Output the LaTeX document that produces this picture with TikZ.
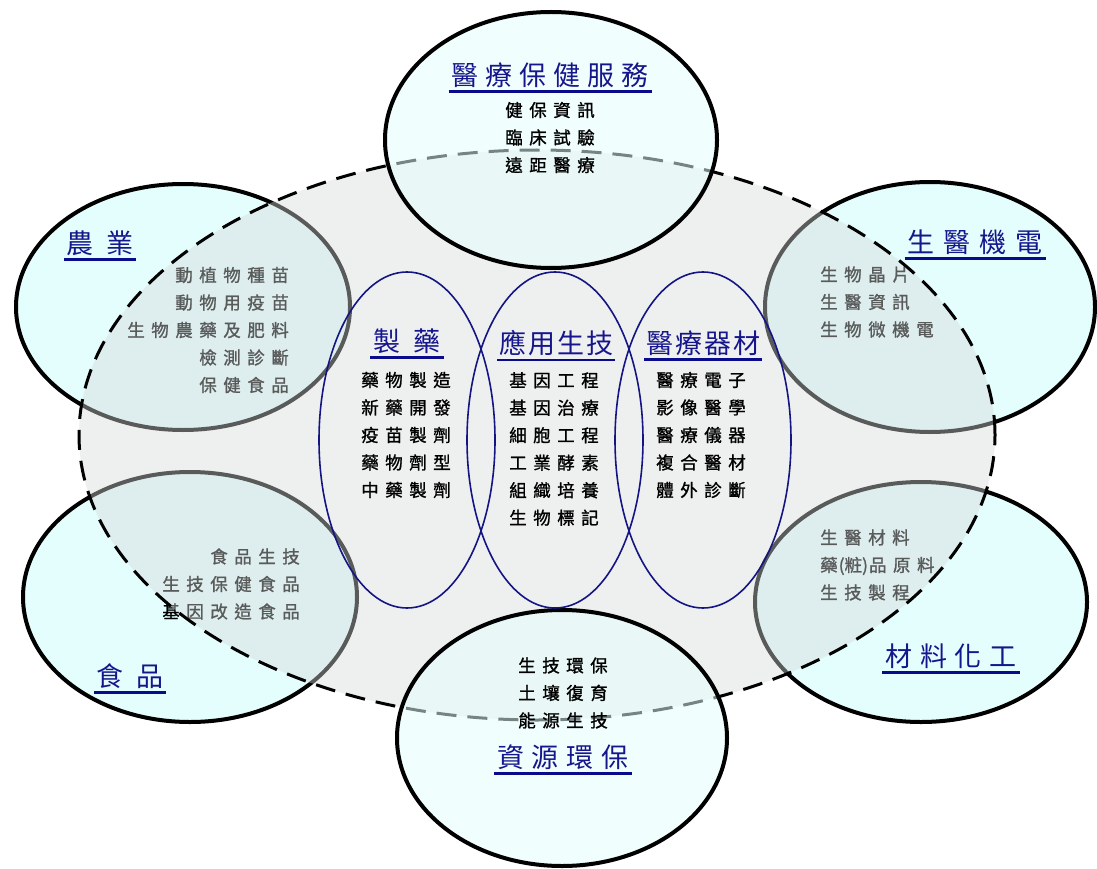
\documentclass[tikz,border=0pt]{standalone}
\usepackage{fontspec}
\usetikzlibrary{shapes.geometric}
\newfontfamily\cjk{Noto Sans CJK TC}
\newfontfamily\cjkitem[FakeBold=1.2]{Noto Sans CJK TC}
\definecolor{cyanfill}{RGB}{228,254,254}
\definecolor{bgfill}{RGB}{214,218,218}
\definecolor{titleblue}{RGB}{22,22,140}
\definecolor{lineblue}{RGB}{10,10,140}
\definecolor{innerblue}{RGB}{20,20,130}
\makeatletter
\newcommand\lsp[2]{\def\lsp@gap{\kern#1\relax}\lsp@first#2\@nil}
\def\lsp@first#1{\ifx#1\@nil\else#1\expandafter\lsp@rest\fi}
\def\lsp@rest#1{\ifx#1\@nil\else\lsp@gap#1\expandafter\lsp@rest\fi}
\makeatother
\newcommand\itm[1]{\lsp{6.5pt}{#1}}
\tikzset{
  outer/.style={ellipse, draw=black, line width=4pt, fill=cyanfill, inner sep=0pt},
  outertop/.style={outer, fill opacity=0.52},
  big/.style={ellipse, draw=black, line width=3pt, dash pattern=on 20pt off 11pt, fill=bgfill, fill opacity=0.42, inner sep=0pt},
  inner/.style={ellipse, draw=innerblue, line width=1.6pt, inner sep=0pt, minimum width=176pt, minimum height=336pt},
  ttl/.style={font=\cjk\fontsize{27}{30}\selectfont, text=titleblue, inner sep=0pt, outer sep=0pt},
  items/.style={font=\cjkitem\fontsize{17.5}{27.5}\selectfont, text=black, inner sep=0pt},
  uline/.style={draw=lineblue, line width=2.2pt},
}
\begin{document}
\begin{tikzpicture}[x=1pt,y=-1pt]
\useasboundingbox (0,0) rectangle (1097,869);
% side ellipses
\node[outer, minimum width=334pt, minimum height=246pt] (agri) at (183,307) {};
\node[outer, minimum width=330pt, minimum height=250pt] (bme) at (930,307) {};
\node[outer, minimum width=334pt, minimum height=250pt] (food) at (190,597) {};
\node[outer, minimum width=332pt, minimum height=240pt] (mat) at (921,602) {};
% side texts
\node[ttl] (tagri) at (100,243) {\lsp{14pt}{農業}};
\draw[uline] ([xshift=-2pt,yshift=-4pt]tagri.south west) -- ([xshift=2pt,yshift=-4pt]tagri.south east);
\node[items, align=right, anchor=east] (iagri) at (289,330) {\itm{動植物種苗}\\\itm{動物用疫苗}\\\itm{生物農藥及肥料}\\\itm{檢測診斷}\\\itm{保健食品}};
\node[ttl] (tbme) at (975,242) {\lsp{9pt}{生醫機電}};
\draw[uline] ([xshift=-3pt,yshift=-4pt]tbme.south west) -- ([xshift=3pt,yshift=-4pt]tbme.south east);
\node[items, align=left, anchor=west] (ibme) at (820,302) {\itm{生物晶片}\\\itm{生醫資訊}\\\itm{生物微機電}};
\node[items, align=right, anchor=east] (ifood) at (300,584) {\itm{食品生技}\\\itm{生技保健食品}\\\itm{基因改造食品}};
\node[ttl] (tfood) at (130,676) {\lsp{14pt}{食品}};
\draw[uline] ([xshift=-2pt,yshift=-4pt]tfood.south west) -- ([xshift=2pt,yshift=-4pt]tfood.south east);
\node[items, align=left, anchor=west] (imat) at (820,565) {\itm{生醫材料}\\\itm{藥}\kern1pt(粧)\kern1pt\itm{品原料}\\\itm{生技製程}};
\node[ttl] (tmat) at (951,656) {\lsp{8pt}{材料化工}};
\draw[uline] ([xshift=-3pt,yshift=-4pt]tmat.south west) -- ([xshift=3pt,yshift=-4pt]tmat.south east);
% big dashed ellipse
\node[big, minimum width=916pt, minimum height=570pt] (core) at (537,435) {};
% top and bottom ellipses
\node[outertop, minimum width=332pt, minimum height=256pt] (health) at (551,140) {};
\node[outertop, minimum width=330pt, minimum height=256pt] (env) at (562,738) {};
\node[ttl] (thealth) at (550,75) {\lsp{7pt}{醫療保健服務}};
\draw[uline] ([xshift=-3pt,yshift=-4pt]thealth.south west) -- ([xshift=3pt,yshift=-4pt]thealth.south east);
\node[items, align=center] (ihealth) at (550,137.5) {\itm{健保資訊}\\\itm{臨床試驗}\\\itm{遠距醫療}};
\node[items, align=center] (ienv) at (563,693) {\itm{生技環保}\\\itm{土壤復育}\\\itm{能源生技}};
\node[ttl] (tenv) at (563,757) {\lsp{8pt}{資源環保}};
\draw[uline] ([xshift=-3pt,yshift=-4pt]tenv.south west) -- ([xshift=3pt,yshift=-4pt]tenv.south east);
% inner ellipses
\node[inner] (pharm) at (407,440) {};
\node[inner] (biotech) at (555,440) {};
\node[inner] (device) at (703,440) {};
\node[ttl] (tpharm) at (407,341) {\lsp{14pt}{製藥}};
\draw[uline] ([xshift=-3pt,yshift=-4pt]tpharm.south west) -- ([xshift=3pt,yshift=-4pt]tpharm.south east);
\node[ttl] (tbiotech) at (556,343) {\lsp{2pt}{應用生技}};
\draw[uline] ([xshift=-2pt,yshift=-4pt]tbiotech.south west) -- ([xshift=2pt,yshift=-4pt]tbiotech.south east);
\node[ttl] (tdevice) at (703,343) {\lsp{2pt}{醫療器材}};
\draw[uline] ([xshift=-2pt,yshift=-4pt]tdevice.south west) -- ([xshift=2pt,yshift=-4pt]tdevice.south east);
\node[items, align=center] (ipharm) at (406,435) {\itm{藥物製造}\\\itm{新藥開發}\\\itm{疫苗製劑}\\\itm{藥物劑型}\\\itm{中藥製劑}};
\node[items, align=center] (ibiotech) at (554,449) {\itm{基因工程}\\\itm{基因治療}\\\itm{細胞工程}\\\itm{工業酵素}\\\itm{組織培養}\\\itm{生物標記}};
\node[items, align=center] (idevice) at (701,435) {\itm{醫療電子}\\\itm{影像醫學}\\\itm{醫療儀器}\\\itm{複合醫材}\\\itm{體外診斷}};
\end{tikzpicture}
\end{document}
